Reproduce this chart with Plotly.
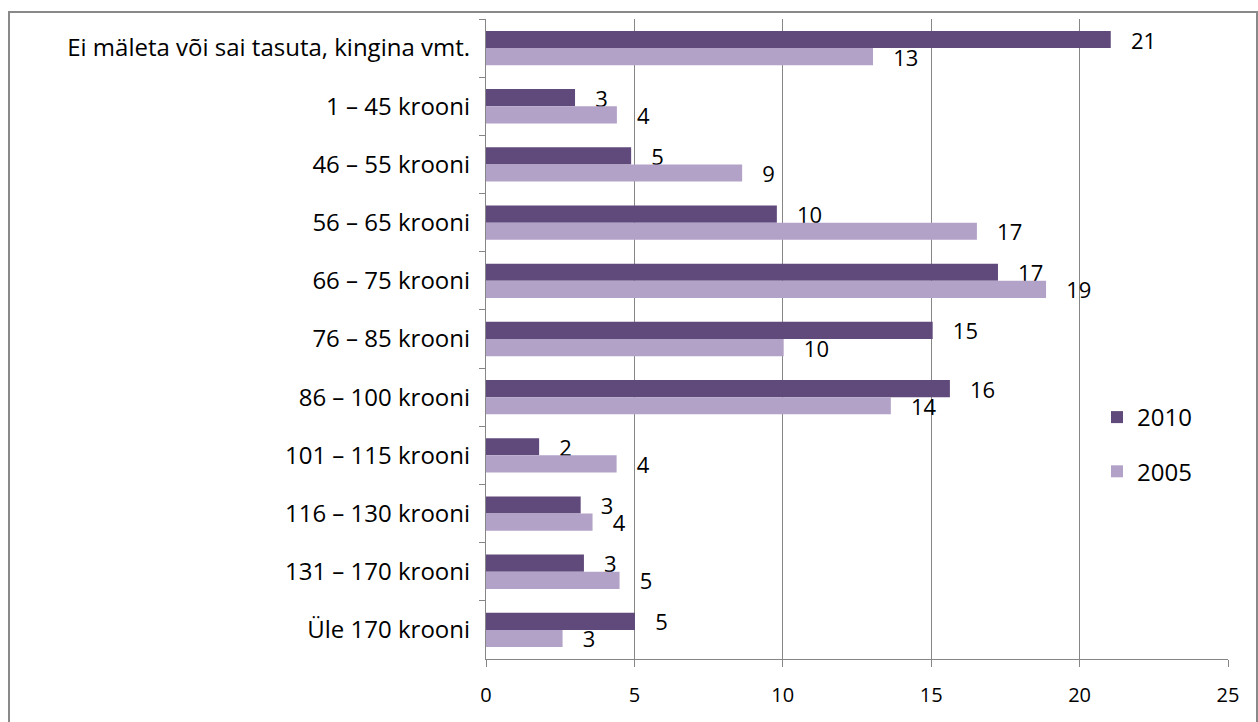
import plotly.graph_objects as go

categories = [
    "Ei mäleta või sai tasuta, kingina vmt.",
    "1 – 45 krooni",
    "46 – 55 krooni",
    "56 – 65 krooni",
    "66 – 75 krooni",
    "76 – 85 krooni",
    "86 – 100 krooni",
    "101 – 115 krooni",
    "116 – 130 krooni",
    "131 – 170 krooni",
    "Üle 170 krooni",
]
values_2010 = [21.05, 3.0, 4.89, 9.8, 17.25, 15.05, 15.63, 1.79, 3.19, 3.3, 5.02]
values_2005 = [13.04, 4.41, 8.63, 16.54, 18.87, 10.03, 13.64, 4.4, 3.59, 4.5, 2.58]
series_names = ["2010", "2005"]
colors = ["#604A7B", "#B3A2C7"]

FONT = "Open Sans"
NB = "\u00a0"

fig = go.Figure()
for name, vals, col in zip(series_names, [values_2010, values_2005], colors):
    fig.add_trace(go.Bar(
        y=categories, x=vals, name=name, orientation="h",
        marker=dict(color=col, line=dict(width=0)),
        texttemplate=NB * 3 + "%{x:.0f}", textposition="outside",
        constraintext="none",
        textfont=dict(family=FONT, size=22, color="#000000"),
        cliponaxis=False, legendgroup=name,
    ))

L, R, T, B = 486, 30, 19, 63
W, H = 1258, 722
pw, ph = W - L - R, H - T - B

def px_x(p):
    return (p - L) / pw

def px_y(p):
    return (H - B - p) / ph

fig.update_layout(
    width=W, height=H,
    margin=dict(l=L, r=R, t=T, b=B, autoexpand=False),
    paper_bgcolor="white", plot_bgcolor="white",
    barmode="group", bargap=0.41, bargroupgap=0.0,
    font=dict(family=FONT, size=22, color="#000000"),
    showlegend=True,
    legend=dict(
        x=px_x(1097), y=px_y(395), xanchor="left", yanchor="top",
        font=dict(family=FONT, size=24), traceorder="grouped",
        tracegroupgap=20, bgcolor="rgba(0,0,0,0)",
    ),
    xaxis=dict(
        range=[0, 25], dtick=5, tick0=0,
        showgrid=True, gridcolor="#868686", gridwidth=1.3,
        showline=True, linecolor="#868686", linewidth=1.3,
        ticks="outside", ticklen=7, tickcolor="#868686", tickwidth=1.3,
        tickfont=dict(family=FONT, size=20), ticklabelstandoff=11,
        zeroline=False, fixedrange=True,
    ),
    yaxis=dict(
        autorange="reversed", type="category",
        showline=True, linecolor="#868686", linewidth=1.3,
        ticks="outside", ticklen=6, tickcolor="#868686", tickwidth=1.3,
        tickson="boundaries", showgrid=False,
        tickfont=dict(family=FONT, size=24), ticklabelstandoff=10,
        fixedrange=True,
    ),
    shapes=[dict(
        type="rect", xref="paper", yref="paper",
        x0=px_x(9), x1=px_x(1257), y0=px_y(740), y1=px_y(12),
        line=dict(color="#898989", width=2), fillcolor="rgba(0,0,0,0)",
        layer="below",
    )],
)

fig.write_html("out.html", config={"displayModeBar": False},
               post_script="document.body.style.margin='0';")
